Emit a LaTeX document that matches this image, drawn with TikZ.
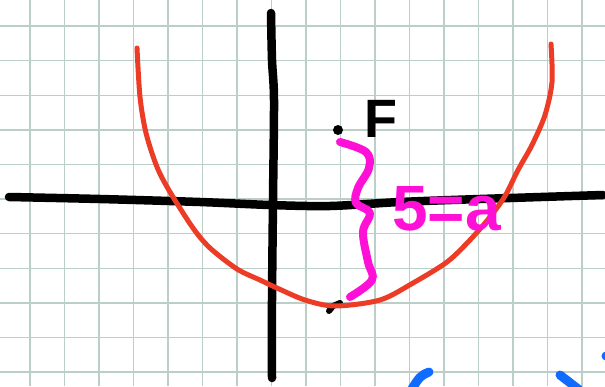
\documentclass[tikz,border=0pt]{standalone}
\usepackage{fontspec}
\setmainfont{Liberation Sans}
\usetikzlibrary{positioning}
\definecolor{inkred}{RGB}{236, 60, 38}
\definecolor{inkpink}{RGB}{255, 16, 214}
\definecolor{inkblue}{RGB}{16, 108, 255}
\definecolor{gridgray}{RGB}{188, 206, 200}

\begin{document}
\begin{tikzpicture}[
    x=1pt, y=-1pt,
    gridline/.style={draw=gridgray, line width=1.4pt},
    axis/.style={draw=black, line width=8.5pt, line cap=round, line join=round},
    curve/.style={draw=inkred, line width=5pt, line cap=round},
    brace/.style={draw=inkpink, line width=8pt, line cap=round, line join=round},
    marker/.style={draw=inkblue, line width=9pt, line cap=round},
    handtext/.style={font=\bfseries\fontsize{54}{54}\selectfont, inner sep=0pt}
]

% Paper with squared grid
\fill[white] (0,0) rectangle (605,386);
\useasboundingbox (0,0) rectangle (605,386);
\foreach \k in {0,...,16} {
    \draw[gridline] ({30+34.5*\k},0) -- ({30+34.5*\k},386);
}
\foreach \k in {0,...,10} {
    \draw[gridline] (0,{26+34.6*\k}) -- (605,{26+34.6*\k});
}

% Axes
\draw[axis] plot[smooth] coordinates {(9,197) (100,199) (200,202) (270,205) (330,206) (400,202) (480,199) (603,195)};
\draw[axis] plot[smooth] coordinates {(271,13) (272,60) (274,100) (273,200) (272,300) (272,378)};

% Vertex mark
\draw[line width=6pt, line cap=round] (329,311) -- (333,306) -- (340,303);

% Parabola
\draw[curve] plot[smooth] coordinates {(137,48) (140,97) (146,133) (157,167) (170,192) (193,228) (210,248) (237,269) (260,280) (277,288) (305,300) (335,306) (380,300) (413,283) (447,262) (470,240) (490,217) (505,196) (518,170) (532,145) (545,115) (552,82) (551,44)};

% Focus
\fill (338,130) circle (5);
\node[handtext] (focus) at (381,119) {F};

% Brace and distance label
\draw[brace] plot[smooth, tension=0.6] coordinates {(340,142) (366,152) (369,168) (358,188) (356,203) (370,213) (363,232) (368,262) (372,280) (350,297)};
\node[handtext, font=\bfseries\fontsize{64}{64}\selectfont, text=inkpink, anchor=base west] (dist) at (392,230) {5=a};

% Blue fragments at the bottom edge
\draw[marker] (429,372) .. controls (420,376) .. (410,392);
\draw[marker] (560,375) -- (582,392);
\fill[inkblue] (606,356) circle (4.5);

\end{tikzpicture}
\end{document}
